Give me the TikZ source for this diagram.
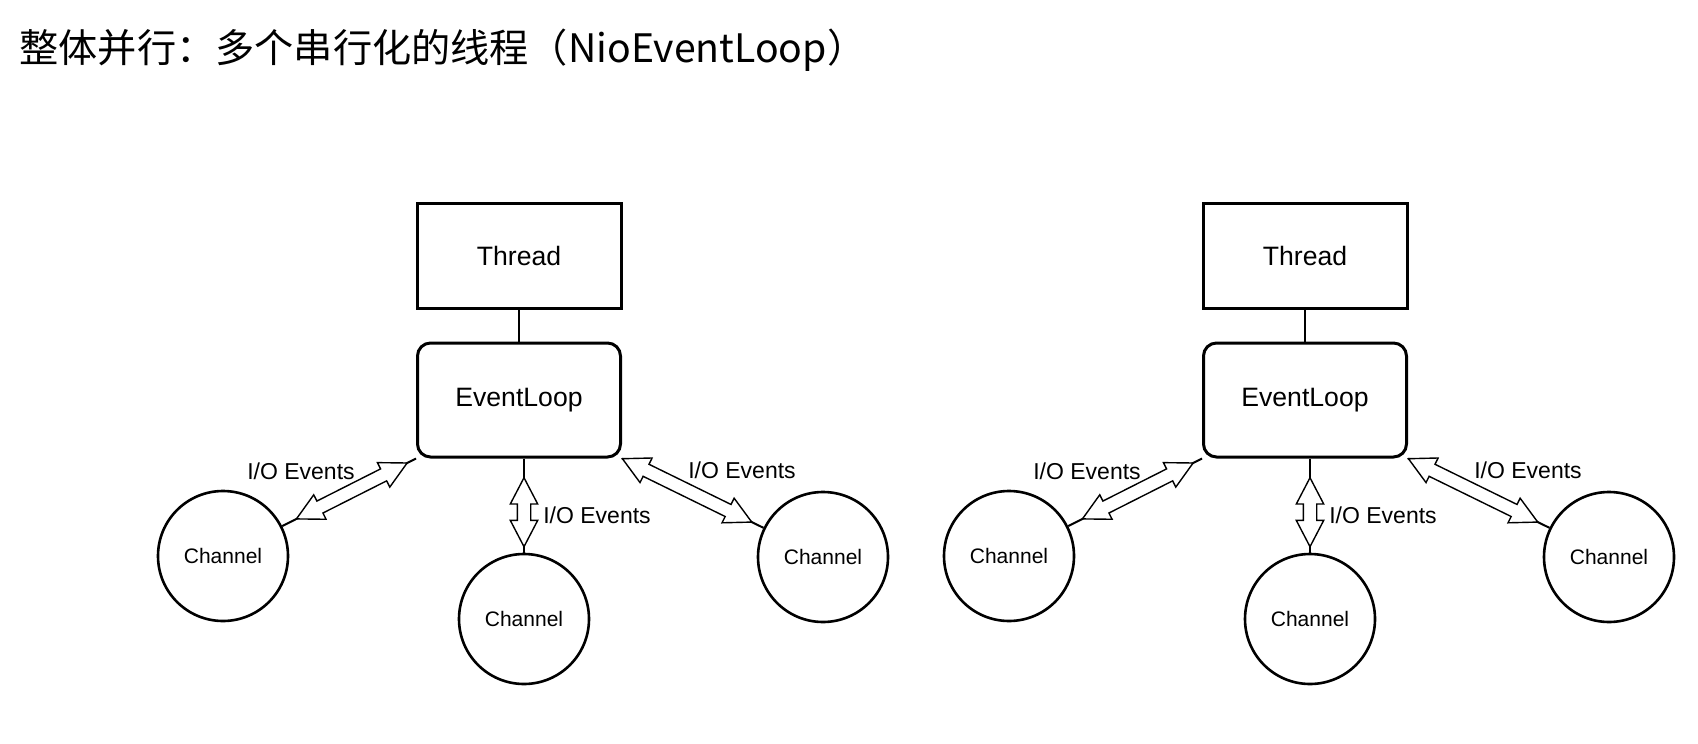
\documentclass[tikz,border=0pt]{standalone}
\usepackage{fontspec}
\setmainfont{Liberation Sans}
\newfontfamily\cjkfont{Noto Sans CJK SC}
\usetikzlibrary{positioning,calc,shapes.arrows}

\tikzset{
  threadbox/.style={draw,line width=1.5pt,minimum width=102pt,minimum height=52.5pt,inner sep=0pt,font=\fontsize{13.3}{15}\selectfont},
  loopbox/.style={threadbox,rounded corners=6.5pt,minimum width=101.5pt,minimum height=57pt},
  chan/.style={draw,circle,line width=1.3pt,minimum size=65pt,inner sep=0pt,font=\fontsize{10.5}{12}\selectfont},
  link/.style={line width=1pt},
  ioarrow/.style={double arrow,draw,fill=white,line width=0.7pt,inner xsep=0pt,inner ysep=3pt,
    double arrow head extend=3.5pt,double arrow tip angle=55,minimum height=#1},
  iolabel/.style={inner sep=0pt,font=\fontsize{11.5}{13}\selectfont}
}

\begin{document}
\begin{tikzpicture}[x=0.5pt,y=-0.5pt]
  \useasboundingbox (0,0) rectangle (1698,744);

  % title
  \node[anchor=west,inner sep=0pt,font=\cjkfont\fontsize{19.6}{24}\selectfont] (title) at (19,50) {整体并行：多个串行化的线程（NioEventLoop）};

  % two event loops, same layout
  \foreach \dx/\s in {0/a,786/b}{
    \node[threadbox] (thr\s) at (519+\dx,256) {Thread};
    \node[loopbox] (el\s) at (519+\dx,400) {EventLoop};

    \node[chan] (chl\s) at (223+\dx,556) {Channel};
    \node[chan] (chm\s) at (524+\dx,619) {Channel};
    \node[chan] (chr\s) at (823+\dx,557) {Channel};

    \draw[link] (thr\s) -- (el\s);
    \draw[link] (el\s.south west) -- node[ioarrow=62pt,sloped,pos=0.48] (al\s) {} (chl\s);
    \draw[link] (el\s.south -| chm\s.north) -- node[ioarrow=34.5pt,sloped,pos=0.57] (am\s) {} (chm\s);
    \draw[link] (el\s.south east) -- node[ioarrow=72pt,sloped,pos=0.46] (ar\s) {} (chr\s);

    \node[iolabel] (ll\s) at (301+\dx,471) {I/O Events};
    \node[iolabel] (lm\s) at (597+\dx,515) {I/O Events};
    \node[iolabel] (lr\s) at (742+\dx,470) {I/O Events};
  }
\end{tikzpicture}
\end{document}
